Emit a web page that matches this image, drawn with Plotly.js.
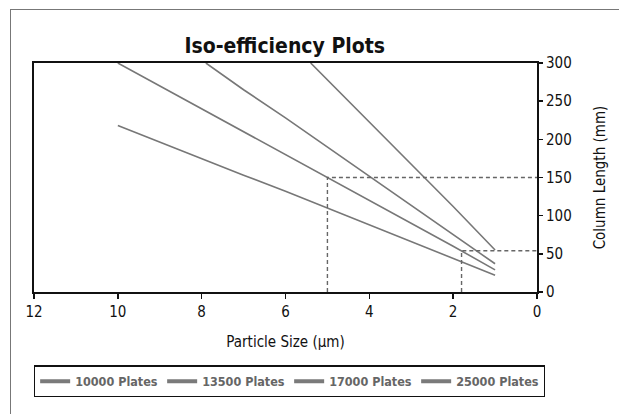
<!DOCTYPE html>
<html><head><meta charset="utf-8">
<script src="https://cdn.plot.ly/plotly-3.0.1.min.js"></script>
<style>
html,body{margin:0;padding:0;background:#fff;}
#frame{position:absolute;left:10px;top:9px;width:700px;height:500px;border-left:1.5px solid #777;border-top:1.5px solid #777;}
#chart{position:absolute;left:0;top:0;width:619px;height:414px;}
</style></head>
<body>
<div id="frame"></div>
<div id="chart"></div>
<script>
// Data
const series = ["10000 Plates", "13500 Plates", "17000 Plates", "25000 Plates"];
const x10000 = [10, 9, 8, 7, 6, 5, 4, 3, 2, 1];
const y10000 = [218, 196, 175, 153, 132, 110, 88, 66, 44, 22];
const x13500 = [10, 9, 8, 7, 6, 5, 4, 3, 2, 1];
const y13500 = [300, 270, 241, 211, 180, 150, 120, 90, 60, 29];
const x17000 = [7.9, 7, 6, 5, 4, 3, 2, 1];
const y17000 = [300, 265, 228, 190, 152, 113, 75, 37];
const x25000 = [5.4, 5, 4, 3, 2, 1];
const y25000 = [300, 278, 222, 167, 112, 55];
// Dashed guide lines (particle size, column length)
const guideX = [5, 1.8];
const guideY = [150, 54];

const FONT = "'DejaVu Sans Condensed', 'Liberation Sans Narrow', sans-serif";
const lineColor = "#777777";
const xs = [x10000, x13500, x17000, x25000];
const ys = [y10000, y13500, y17000, y25000];

const traces = series.map((name, i) => ({
  x: xs[i], y: ys[i], name: name, type: "scatter", mode: "lines",
  showlegend: false, line: {color: lineColor, width: 1.6}
}));
// legend-only entries with a thicker key
series.forEach((name, i) => {
  traces.push({x: [null], y: [null], name: name, type: "scatter", mode: "lines",
    showlegend: true, line: {color: "#7a7a7a", width: 4}});
});
guideX.forEach((gx, i) => {
  traces.push({
    x: [gx, gx, 0], y: [0, guideY[i], guideY[i]], type: "scatter", mode: "lines",
    showlegend: false, hoverinfo: "skip",
    line: {color: "#666666", width: 1.4, dash: "4px,3px"}
  });
});

const layout = {
  width: 619, height: 414,
  margin: {l: 34, r: 82, t: 63, b: 122},
  paper_bgcolor: "rgba(0,0,0,0)", plot_bgcolor: "rgba(0,0,0,0)",
  font: {family: FONT, size: 14, color: "#111"},
  title: {text: "<b>Iso-efficiency Plots</b>", font: {family: FONT, size: 21, color: "#111"},
          x: 0.46, xanchor: "center", y: 0.89, yanchor: "middle"},
  xaxis: {
    range: [12, 0], tickvals: [12, 10, 8, 6, 4, 2, 0], showgrid: false, zeroline: false,
    showline: true, linecolor: "#111", linewidth: 2, mirror: true,
    ticks: "outside", ticklen: 5, tickwidth: 1.5, tickcolor: "#111",
    tickfont: {family: FONT, size: 15},
    title: {text: "Particle Size (µm)", font: {family: FONT, size: 15}, standoff: 16}
  },
  yaxis: {
    range: [0, 300], side: "right", tickvals: [0, 50, 100, 150, 200, 250, 300], showgrid: false, zeroline: false,
    showline: true, linecolor: "#111", linewidth: 2, mirror: true,
    ticks: "outside", ticklen: 4, tickwidth: 1.5, tickcolor: "#111",
    tickfont: {family: FONT, size: 15},
    title: {text: "Column Length (mm)", font: {family: FONT, size: 15}, standoff: 24}
  },
  showlegend: true,
  legend: {
    orientation: "h", x: -0.0001, xanchor: "left", y: -0.39, yanchor: "middle",
    bordercolor: "#111", borderwidth: 1.2, bgcolor: "#fff",
    font: {family: FONT, size: 12.5, color: "#666", weight: "bold"},
    itemwidth: 30, entrywidth: 82, entrywidthmode: "pixels"
  }
};

Plotly.newPlot("chart", traces, layout, {displayModeBar: false, staticPlot: true});
</script>
</body></html>
